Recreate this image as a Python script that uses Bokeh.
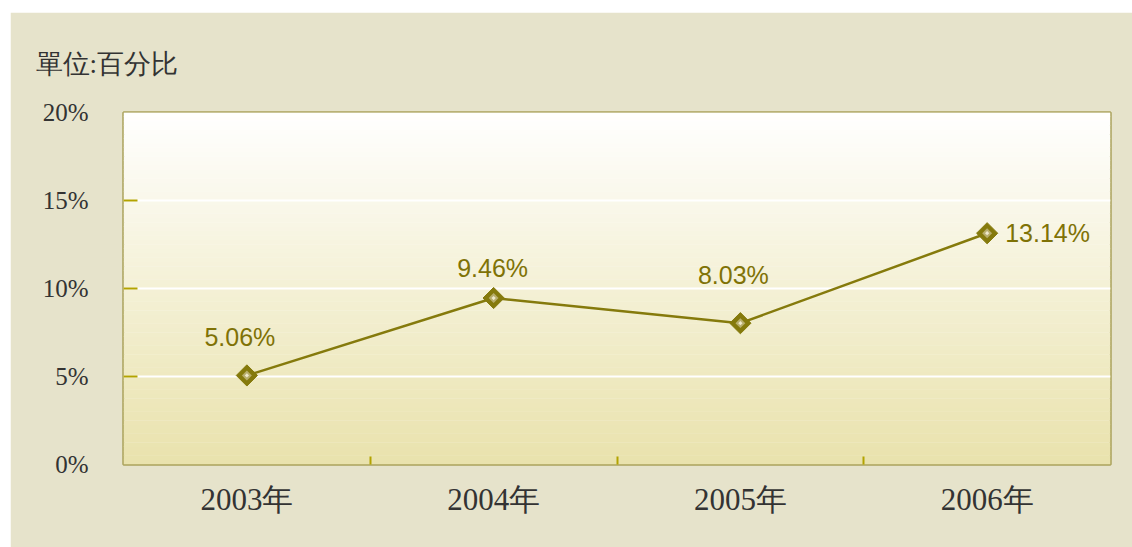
import numpy as np
from bokeh.plotting import figure
from bokeh.models import Range1d, FixedTicker, ColumnDataSource
from bokeh.core.properties import value
from bokeh.embed import file_html
from bokeh.resources import INLINE

# ---- data ----
years = ["2003年", "2004年", "2005年", "2006年"]
growth = [5.06, 9.46, 8.03, 13.14]
growth_labels = ["5.06%", "9.46%", "8.03%", "13.14%"]
y_ticks = [0, 5, 10, 15, 20]
y_tick_labels = ["0%", "5%", "10%", "15%", "20%"]
unit_title = "單位:百分比"

# ---- styles ----
BG = "#e6e3cb"
OLIVE = "#857a0c"
LABEL_OLIVE = "#7f7206"
SERIF = "Liberation Serif"

p = figure(width=1122, height=535, output_backend="svg", toolbar_location=None,
           x_range=Range1d(0, len(years)), y_range=Range1d(y_ticks[0], y_ticks[-1]),
           min_border_left=113, min_border_top=100, min_border_right=22,
           min_border_bottom=83, margin=(12, 0, 0, 10))
p.border_fill_color = BG
p.background_fill_color = "#ffffff"
p.outline_line_color = "#aba35c"
p.outline_line_width = 2.5

# unit title (top-left)
p.title.text = unit_title
p.title.align = "left"
p.title.offset = -88
p.title.standoff = 68
p.title.text_font = SERIF
p.title.text_font_size = "27px"
p.title.text_font_style = "normal"
p.title.text_color = "#333333"

# gradient background of the plot area
n = 80
edges = np.linspace(y_ticks[0], y_ticks[-1], n + 1)
bot_rgb = np.array([233, 226, 172])
top_rgb = np.array([255, 255, 255])
cols = []
for i in range(n):
    t = (i + 0.5) / n
    c = bot_rgb + (top_rgb - bot_rgb) * t
    cols.append("#%02x%02x%02x" % tuple(int(round(v)) for v in c))
grad = p.quad(left=0, right=len(years), bottom=edges[:-1], top=edges[1:] + 0.02,
              fill_color=cols, line_color=None)
grad.level = "image"

# grid
p.xgrid.visible = False
p.ygrid.ticker = FixedTicker(ticks=y_ticks[1:-1])
p.ygrid.grid_line_color = "white"
p.ygrid.grid_line_width = 2

# y axis
ya = p.yaxis[0]
ya.ticker = FixedTicker(ticks=y_ticks, minor_ticks=y_ticks[1:-1])
ya.major_label_overrides = {t: l for t, l in zip(y_ticks, y_tick_labels)}
ya.axis_line_color = None
ya.major_tick_line_color = None
ya.minor_tick_in = 14
ya.minor_tick_out = 0
ya.minor_tick_line_color = "#b3a300"
ya.minor_tick_line_width = 2
ya.major_label_standoff = 29
ya.major_label_text_font = SERIF
ya.major_label_text_font_size = "25px"
ya.major_label_text_color = "#333333"

# x axis
xs = [i + 0.5 for i in range(len(years))]
xa = p.xaxis[0]
xa.ticker = FixedTicker(ticks=xs, minor_ticks=list(range(1, len(years))))
xa.major_label_overrides = {x: y for x, y in zip(xs, years)}
xa.axis_line_color = None
xa.major_tick_line_color = None
xa.minor_tick_in = 8
xa.minor_tick_out = 0
xa.minor_tick_line_color = "#b3a300"
xa.minor_tick_line_width = 2
xa.major_label_standoff = 11
xa.major_label_text_font = SERIF
xa.major_label_text_font_size = "31px"
xa.major_label_text_color = "#333333"

# line and markers
src = ColumnDataSource(dict(x=xs, y=growth, lab=growth_labels,
                            dx=[-7, -1, -7, 18], dy=[-38, -30, -48, 0],
                            al=["center", "center", "center", "left"]))
p.line("x", "y", source=src, line_color=OLIVE, line_width=2.5)
p.scatter("x", "y", source=src, marker="square", angle=np.pi / 4, size=15,
          fill_color=OLIVE, line_color=OLIVE, line_width=1)
p.scatter("x", "y", source=src, marker="square", angle=np.pi / 4, size=7,
          fill_color="#b8ae6c", line_color=None)
p.scatter("x", "y", source=src, marker="square", angle=np.pi / 4, size=3,
          fill_color="#efe9cc", line_color=None)
p.text("x", "y", text="lab", source=src, x_offset="dx", y_offset="dy",
       text_align="al", text_baseline="middle",
       text_font=value("Liberation Sans"),
       text_font_size="25px", text_color=LABEL_OLIVE)

open("out.html", "w").write(file_html(p, INLINE))
